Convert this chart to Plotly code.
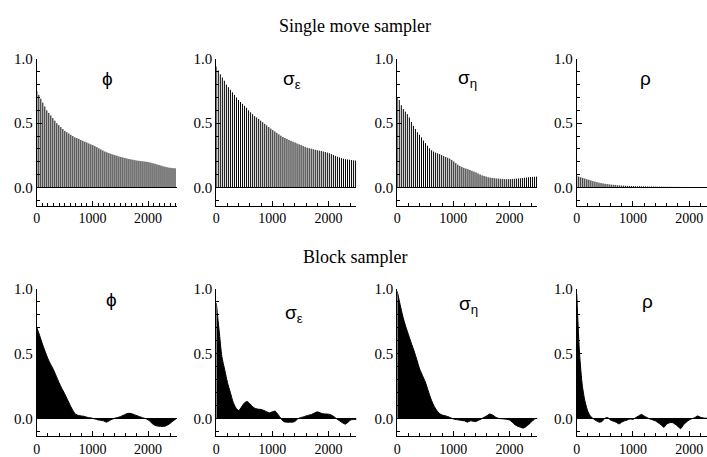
import plotly.graph_objects as go

W, H = 707, 457

# ---------- data ----------
# Single move sampler: autocorrelations at lags 0, 36, 72, ... 2484
lags_top = list(range(0, 2500, 36))
phi_single = [0.75, 0.72, 0.69, 0.66, 0.63, 0.60, 0.58, 0.56, 0.54, 0.52,
              0.50, 0.485, 0.47, 0.455, 0.44, 0.43, 0.42, 0.41, 0.40, 0.39,
              0.385, 0.378, 0.37, 0.363, 0.356, 0.35, 0.343, 0.336, 0.33, 0.322,
              0.314, 0.305, 0.296, 0.288, 0.28, 0.274, 0.268, 0.262, 0.257, 0.252,
              0.247, 0.242, 0.238, 0.234, 0.23, 0.226, 0.222, 0.219, 0.216, 0.213,
              0.21, 0.208, 0.206, 0.204, 0.202, 0.2, 0.197, 0.193, 0.189, 0.185,
              0.18, 0.176, 0.171, 0.166, 0.162, 0.158, 0.155, 0.153, 0.151, 0.15]
sige_single = [0.94, 0.91, 0.88, 0.855, 0.83, 0.80, 0.78, 0.76, 0.74, 0.72,
               0.70, 0.68, 0.665, 0.65, 0.635, 0.62, 0.60, 0.585, 0.57, 0.555,
               0.545, 0.533, 0.52, 0.508, 0.495, 0.483, 0.47, 0.458, 0.447, 0.436,
               0.425, 0.414, 0.403, 0.393, 0.385, 0.378, 0.37, 0.363, 0.356, 0.35,
               0.343, 0.336, 0.33, 0.323, 0.316, 0.31, 0.306, 0.302, 0.298, 0.294,
               0.29, 0.287, 0.284, 0.28, 0.276, 0.272, 0.267, 0.26, 0.253, 0.246,
               0.24, 0.234, 0.228, 0.224, 0.22, 0.218, 0.216, 0.214, 0.212, 0.21]
sigh_single = [0.70, 0.68, 0.64, 0.61, 0.59, 0.57, 0.545, 0.51, 0.48, 0.455,
               0.43, 0.41, 0.39, 0.365, 0.345, 0.325, 0.305, 0.29, 0.28, 0.272,
               0.266, 0.26, 0.252, 0.245, 0.238, 0.232, 0.225, 0.215, 0.203, 0.19,
               0.178, 0.168, 0.16, 0.153, 0.148, 0.143, 0.137, 0.13, 0.124, 0.118,
               0.11, 0.102, 0.095, 0.09, 0.085, 0.08, 0.077, 0.075, 0.073, 0.071,
               0.07, 0.068, 0.067, 0.066, 0.065, 0.065, 0.066, 0.067, 0.068, 0.07,
               0.071, 0.072, 0.074, 0.076, 0.078, 0.08, 0.082, 0.083, 0.084, 0.085]
rho_single = [0.09, 0.085, 0.08, 0.075, 0.07, 0.065, 0.06, 0.055, 0.05, 0.046,
              0.042, 0.038, 0.035, 0.032, 0.029, 0.027, 0.025, 0.023, 0.021, 0.02,
              0.018, 0.017, 0.016, 0.015, 0.014, 0.013, 0.012, 0.012, 0.011, 0.011,
              0.010, 0.010, 0.009, 0.009, 0.009, 0.008, 0.008, 0.008, 0.008, 0.007,
              0.007, 0.007, 0.007, 0.006, 0.006, 0.006, 0.006, 0.006, 0.005, 0.005,
              0.005, 0.005, 0.005, 0.005, 0.005, 0.004, 0.004, 0.004, 0.004, 0.004,
              0.004, 0.004, 0.004, 0.004, 0.004, 0.004, 0.004, 0.004, 0.004, 0.004]

# Block sampler: autocorrelations at lags 0, 50, 100, ... 2500
lags_bot = list(range(0, 2550, 50))
phi_block = [0.70, 0.64, 0.575, 0.515, 0.46, 0.415, 0.375, 0.325, 0.275, 0.23,
             0.19, 0.145, 0.10, 0.06, 0.03, 0.022, 0.018, 0.015, 0.008, 0.004,
             0.0, -0.006, -0.012, -0.016, -0.02, -0.03, -0.02, -0.008, 0.0, 0.006,
             0.012, 0.022, 0.032, 0.038, 0.036, 0.028, 0.02, 0.012, 0.005, -0.002,
             -0.012, -0.03, -0.05, -0.058, -0.062, -0.063, -0.062, -0.052, -0.038, -0.02,
             -0.005]
sige_block = [0.89, 0.68, 0.475, 0.375, 0.275, 0.2, 0.125, 0.08, 0.06, 0.088,
              0.118, 0.13, 0.112, 0.088, 0.075, 0.07, 0.068, 0.06, 0.05, 0.042,
              0.05, 0.055, 0.03, 0.0, -0.025, -0.03, -0.03, -0.03, -0.025, -0.005,
              0.005, 0.01, 0.018, 0.024, 0.03, 0.04, 0.05, 0.042, 0.035, 0.033,
              0.032, 0.025, 0.012, -0.005, -0.02, -0.035, -0.045, -0.03, -0.012, -0.01,
              -0.008]
sigh_block = [0.98, 0.88, 0.785, 0.71, 0.645, 0.58, 0.52, 0.45, 0.38, 0.33,
              0.28, 0.215, 0.15, 0.10, 0.063, 0.038, 0.025, 0.02, 0.013, 0.004,
              -0.005, -0.01, -0.013, -0.017, -0.02, -0.03, -0.02, -0.022, -0.025, -0.015,
              -0.005, 0.008, 0.02, 0.033, 0.025, 0.01, 0.0, -0.003, -0.005, -0.008,
              -0.013, -0.03, -0.05, -0.062, -0.07, -0.076, -0.063, -0.045, -0.025, -0.005,
              0.0]
rho_block = [0.96, 0.5, 0.25, 0.125, 0.05, 0.013, -0.005, -0.02, -0.03, -0.025,
             0.0, 0.005, -0.013, -0.022, -0.03, -0.043, -0.03, -0.02, -0.013, -0.005,
             -0.008, 0.005, 0.018, 0.03, 0.018, 0.005, -0.005, -0.012, -0.02, -0.035,
             -0.05, -0.07, -0.045, -0.035, -0.033, -0.045, -0.063, -0.08, -0.05, -0.03,
             -0.013, -0.003, 0.005, 0.018, 0.008, 0.003, 0.0, 0.0, 0.0, 0.0,
             0.0]

labels = ["ϕ", "σ<sub>ε</sub>", "σ<sub>η</sub>", "ρ"]
ytick_vals = [0.0, 0.5, 1.0]
ytick_text = ["0.0", "0.5", "1.0"]
xtick_vals = [0, 1000, 2000]

top_series = [phi_single, sige_single, sigh_single, rho_single]
bot_series = [phi_block, sige_block, sigh_block, rho_block]

# ---------- layout geometry (pixels) ----------
col_px = [(33, 174), (213.5, 354.5), (395.5, 536.5), (576, 707)]
x_max = [2520, 2500, 2500, 2318]
row_px = [(52, 202), (287, 438)]
top_label_px = [(104, 72), (290, 74), (466, 73), (645, 72)]
bot_label_px = [(108, 298), (292, 313), (467, 304), (647, 300)]

serif = "Liberation Serif"
fig = go.Figure()
layout = dict(width=W, height=H, margin=dict(l=0, r=0, t=0, b=0),
              paper_bgcolor="white", plot_bgcolor="white", showlegend=False,
              font=dict(family=serif, size=13, color="black"))
annotations = []

def px_x(p):
    return p / W

def px_y(p):
    return 1 - p / H

n = 0
for r, series_list in enumerate([top_series, bot_series]):
    for c in range(4):
        n += 1
        ax = "" if n == 1 else str(n)
        xa, ya = "x" + ax, "y" + ax
        ys = series_list[c]
        if r == 0:
            xs, yv = [], []
            for l, v in zip(lags_top, ys):
                xs += [l, l, None]
                yv += [0, v, None]
            fig.add_trace(go.Scatter(x=xs, y=yv, mode="lines",
                                     line=dict(color="black", width=1),
                                     xaxis=xa, yaxis=ya, hoverinfo="skip"))
        else:
            fig.add_trace(go.Scatter(x=lags_bot, y=ys, mode="lines",
                                     fill="tozeroy", fillcolor="black",
                                     line=dict(color="black", width=1,
                                               shape="spline", smoothing=0.7),
                                     xaxis=xa, yaxis=ya, hoverinfo="skip"))
        x0, x1 = col_px[c]
        y0, y1 = row_px[r]
        minor_dx = 100 if (r == 0 and c == 0) else 200
        layout["xaxis" + ax] = dict(
            domain=[px_x(x0), px_x(x1)], range=[0, x_max[c]], anchor=ya,
            showline=True, linecolor="black", linewidth=1, showgrid=False,
            zeroline=False, ticks="inside", ticklen=5, tickcolor="black",
            tickvals=xtick_vals, ticktext=[str(v) for v in xtick_vals],
            tickfont=dict(family=serif, size=14),
            minor=dict(dtick=minor_dx, tick0=0, ticks="inside", ticklen=3,
                       tickcolor="black", showgrid=False))
        layout["yaxis" + ax] = dict(
            domain=[px_y(y1), px_y(y0)], range=[-0.14, 1.0], anchor=xa,
            showline=True, linecolor="black", linewidth=1, showgrid=False,
            zeroline=True, zerolinecolor="black", zerolinewidth=1,
            ticks="inside", ticklen=5, tickcolor="black",
            tickvals=ytick_vals, ticktext=ytick_text,
            tickfont=dict(family=serif, size=15),
            minor=dict(dtick=0.1, tick0=0, ticks="inside", ticklen=3,
                       tickcolor="black", showgrid=False))
        lx, ly = (top_label_px if r == 0 else bot_label_px)[c]
        annotations.append(dict(x=px_x(lx), y=px_y(ly), xref="paper", yref="paper",
                                xanchor="center", yanchor="middle",
                                text=labels[c], showarrow=False,
                                font=dict(family="Liberation Sans", size=19, color="black")))

annotations.append(dict(x=px_x(353), y=px_y(18), xref="paper", yref="paper",
                        xanchor="center", yanchor="middle",
                        text="Single move sampler", showarrow=False,
                        font=dict(family=serif, size=18, color="black")))
annotations.append(dict(x=px_x(353), y=px_y(255), xref="paper", yref="paper",
                        xanchor="center", yanchor="middle",
                        text="Block sampler", showarrow=False,
                        font=dict(family=serif, size=18, color="black")))
layout["annotations"] = annotations
fig.update_layout(**layout)
fig.write_html("out.html", config={"displayModeBar": False},
               post_script="document.body.style.margin='0px';document.body.style.overflow='hidden';")
